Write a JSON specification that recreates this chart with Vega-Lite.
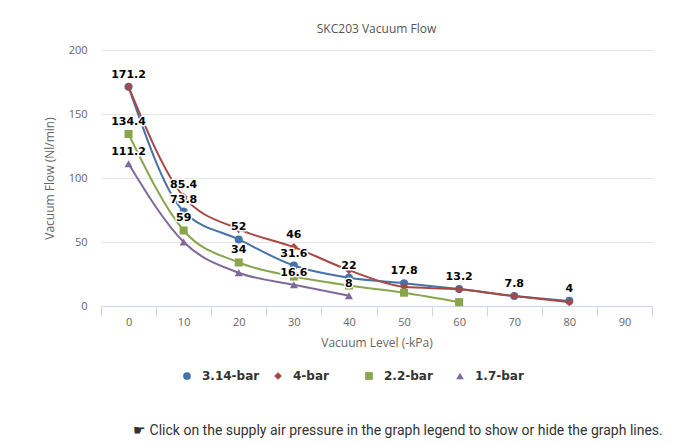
{
  "$schema": "https://vega.github.io/schema/vega-lite/v6.json",
  "padding": {"left": 43, "top": 23, "right": 5, "bottom": 5},
  "background": "white",
  "config": {"view": {"stroke": null}, "font": "Open Sans"},
  "title": {"text": "☛ Click on the supply air pressure in the graph legend to show or hide the graph lines.", "orient": "bottom", "anchor": "start", "font": "Roboto", "fontSize": 14, "fontWeight": "normal", "color": "#333333", "dx": 90, "offset": 42},
  "vconcat": [
    {
      "title": {"text": "SKC203 Vacuum Flow", "fontSize": 12, "fontWeight": "normal", "color": "#555555", "offset": 8, "anchor": "middle"},
      "width": 551,
      "height": 256,
      "data": {"values": [
        {"p": "3.14-bar", "x": 0, "y": 171.2, "lab": false},
        {"p": "3.14-bar", "x": 10, "y": 73.8, "lab": true},
        {"p": "3.14-bar", "x": 20, "y": 52, "lab": true},
        {"p": "3.14-bar", "x": 30, "y": 31.6, "lab": true},
        {"p": "3.14-bar", "x": 40, "y": 22, "lab": true},
        {"p": "3.14-bar", "x": 50, "y": 17.8, "lab": true},
        {"p": "3.14-bar", "x": 60, "y": 13.2, "lab": true},
        {"p": "3.14-bar", "x": 70, "y": 7.8, "lab": true},
        {"p": "3.14-bar", "x": 80, "y": 4, "lab": true},
        {"p": "4-bar", "x": 0, "y": 171.2, "lab": true},
        {"p": "4-bar", "x": 10, "y": 85.4, "lab": true},
        {"p": "4-bar", "x": 20, "y": 60, "lab": false},
        {"p": "4-bar", "x": 30, "y": 46, "lab": true},
        {"p": "4-bar", "x": 40, "y": 28, "lab": false},
        {"p": "4-bar", "x": 50, "y": 15, "lab": false},
        {"p": "4-bar", "x": 60, "y": 13, "lab": false},
        {"p": "4-bar", "x": 70, "y": 7.8, "lab": false},
        {"p": "4-bar", "x": 80, "y": 3, "lab": false},
        {"p": "2.2-bar", "x": 0, "y": 134.4, "lab": true},
        {"p": "2.2-bar", "x": 10, "y": 59, "lab": true},
        {"p": "2.2-bar", "x": 20, "y": 34, "lab": true},
        {"p": "2.2-bar", "x": 30, "y": 23, "lab": false},
        {"p": "2.2-bar", "x": 40, "y": 16, "lab": false},
        {"p": "2.2-bar", "x": 50, "y": 10.4, "lab": false},
        {"p": "2.2-bar", "x": 60, "y": 3, "lab": false},
        {"p": "1.7-bar", "x": 0, "y": 111.2, "lab": true},
        {"p": "1.7-bar", "x": 10, "y": 50, "lab": false},
        {"p": "1.7-bar", "x": 20, "y": 26, "lab": false},
        {"p": "1.7-bar", "x": 30, "y": 16.6, "lab": true},
        {"p": "1.7-bar", "x": 40, "y": 8, "lab": true}
      ]},
      "encoding": {
        "x": {"field": "x", "type": "ordinal", "bandPosition": 0.5,
          "scale": {"type": "band", "domain": [0, 10, 20, 30, 40, 50, 60, 70, 80, 90], "paddingInner": 0, "paddingOuter": 0},
          "axis": {"title": "Vacuum Level (-kPa)", "labelAngle": 0, "tickBand": "extent", "domainColor": "#ccd6eb", "tickColor": "#ccd6eb", "tickSize": 10, "labelColor": "#666666", "labelFontSize": 11, "labelPadding": 0, "titleColor": "#666666", "titleFontSize": 12, "titleFontWeight": "normal", "titlePadding": 10, "grid": false}},
        "y": {"field": "y", "type": "quantitative",
          "scale": {"domain": [0, 200]},
          "axis": {"title": "Vacuum Flow (Nl/min)", "values": [0, 50, 100, 150, 200], "domain": false, "ticks": false, "gridColor": "#e6e6e6", "labelColor": "#666666", "labelFontSize": 11, "labelPadding": 14, "titleColor": "#666666", "titleFontSize": 12, "titleFontWeight": "normal", "titlePadding": 12}},
        "color": {"field": "p", "type": "nominal", "sort": ["3.14-bar", "4-bar", "2.2-bar", "1.7-bar"],
          "scale": {"domain": ["3.14-bar", "4-bar", "2.2-bar", "1.7-bar"], "range": ["#4572A7", "#AA4643", "#89A54E", "#80699B"]},
          "legend": {"title": null, "orient": "none", "legendX": 80, "legendY": 320, "direction": "horizontal", "gridAlign": "all", "labelFont": "DejaVu Sans", "labelFontWeight": "bold", "labelFontSize": 12, "labelColor": "#333333", "symbolSize": 60, "labelOffset": 9, "columnPadding": 12, "symbolStrokeWidth": 0}}
      },
      "layer": [
        {"mark": {"type": "line", "interpolate": "monotone", "strokeWidth": 2}},
        {"mark": {"type": "point", "filled": true, "opacity": 1, "size": 65},
          "encoding": {"shape": {"field": "p", "type": "nominal",
            "scale": {"domain": ["3.14-bar", "4-bar", "2.2-bar", "1.7-bar"], "range": ["circle", "diamond", "square", "triangle-up"]},
            "legend": {"title": null}}}},
        {"transform": [{"filter": "datum.lab"}],
          "mark": {"type": "text", "fontWeight": "bold", "fontSize": 11, "font": "DejaVu Sans", "dy": -12, "stroke": "white", "strokeWidth": 3, "strokeJoin": "round"},
          "encoding": {"text": {"field": "y", "type": "quantitative"}, "color": {"value": "white"}}},
        {"transform": [{"filter": "datum.lab"}],
          "mark": {"type": "text", "fontWeight": "bold", "fontSize": 11, "font": "DejaVu Sans", "dy": -12},
          "encoding": {"text": {"field": "y", "type": "quantitative"}, "color": {"value": "black"}}}
      ]
    }
  ]
}
